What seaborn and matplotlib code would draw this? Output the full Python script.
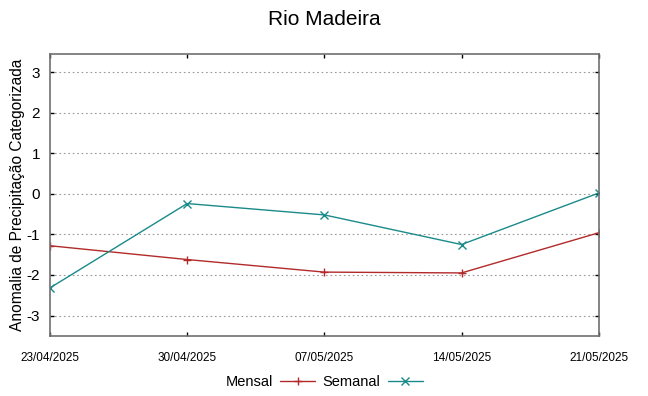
"""
Rio Madeira - anomalia de precipitação categorizada (mensal x semanal).
"""

import matplotlib
matplotlib.use("Agg")
import matplotlib.dates as mdates
import matplotlib.pyplot as plt
import pandas as pd
import seaborn as sns

# ── Data ───────────────────────────────────────────────────────────────
DATES = ["2025-04-23", "2025-04-30", "2025-05-07", "2025-05-14", "2025-05-21"]
MENSAL = [-1.28, -1.62, -1.93, -1.95, -0.96]
SEMANAL = [-2.32, -0.24, -0.52, -1.25, 0.02]
Y_TICKS = [-3, -2, -1, 0, 1, 2, 3]

COLORS = {"Mensal": "#b22a2a", "Semanal": "#1a8a8a"}
MARKERS = {"Mensal": "+", "Semanal": "x"}

sns.set_theme(style="ticks")
plt.rcParams["font.family"] = ["Liberation Sans", "DejaVu Sans"]
plt.rcParams["axes.unicode_minus"] = False
plt.rcParams["text.color"] = "black"
plt.rcParams["axes.labelcolor"] = "black"
plt.rcParams["xtick.color"] = "black"
plt.rcParams["ytick.color"] = "black"

df = pd.DataFrame({
    "data": pd.to_datetime(DATES * 2),
    "valor": MENSAL + SEMANAL,
    "serie": ["Mensal"] * len(MENSAL) + ["Semanal"] * len(SEMANAL),
})

fig = plt.figure(figsize=(6.48, 3.96), dpi=100)
ax = fig.add_axes([0.077, 0.152, 0.847, 0.712])

sns.lineplot(
    data=df, x="data", y="valor", hue="serie", style="serie",
    palette=COLORS, markers=MARKERS, dashes=False,
    linewidth=1.0, markersize=6, ax=ax,
)
# seaborn paints marker edges white; line markers "+"/"x" need their own colour
for line in ax.get_lines():
    line.set_markeredgecolor(line.get_color())
    line.set_markeredgewidth(1.0)

ax.set_xlim(df["data"].min(), df["data"].max())
ax.set_ylim(-3.5, 3.45)
ax.set_yticks(Y_TICKS)
ax.set_xticks(pd.to_datetime(DATES))
ax.xaxis.set_major_formatter(mdates.DateFormatter("%d/%m/%Y"))
ax.yaxis.grid(True, linestyle=(0, (1.5, 2.5)), color="#999999", linewidth=0.8)
ax.xaxis.grid(False)

ax.tick_params(axis="both", direction="in", top=True, right=True,
               length=3, width=1.0, color="black")
ax.tick_params(axis="y", labelsize=11, pad=7)
ax.tick_params(axis="x", labelsize=8.5, pad=12)
for spine in ax.spines.values():
    spine.set_color("#707070")
    spine.set_linewidth(1.2)

ax.set_xlabel("")
ax.set_ylabel("Anomalia de Precipitação Categorizada", fontsize=11.2, labelpad=1)
fig.suptitle("Rio Madeira", fontsize=15, y=0.975)

handles, labels = ax.get_legend_handles_labels()
for h in handles:
    h.set_markeredgecolor(h.get_color())
    h.set_markeredgewidth(1.0)
ax.legend(
    handles, labels, loc="center", bbox_to_anchor=(0.5, -0.165),
    ncol=2, frameon=False, markerfirst=False, fontsize=10.5,
    handlelength=2.4, columnspacing=0.5, handletextpad=0.5,
)

fig.savefig("out.png", dpi=100)
plt.close(fig)
